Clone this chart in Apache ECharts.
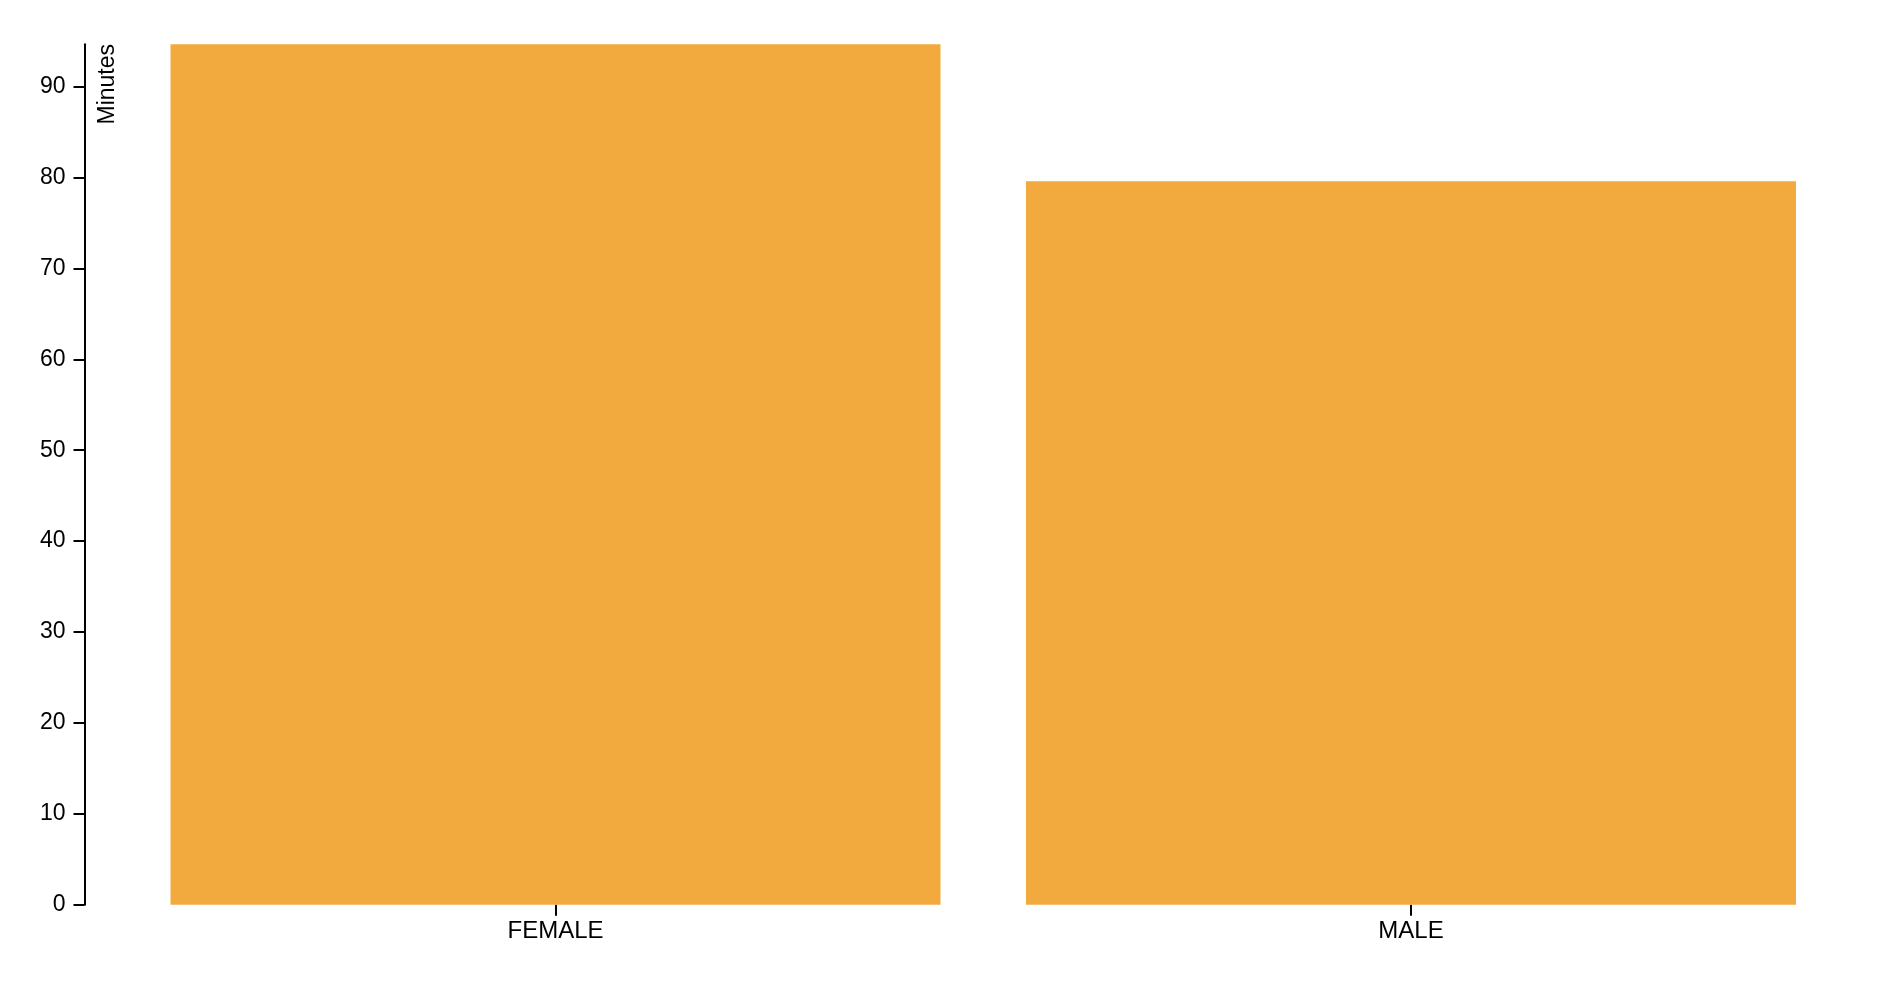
<!DOCTYPE html>
<html>
<head>
<meta charset="utf-8">
<script src="https://cdn.jsdelivr.net/npm/echarts@6/dist/echarts.min.js"></script>
<style>
html,body{margin:0;padding:0;background:#fff;}
#chart{width:1898px;height:984px;}
</style>
</head>
<body>
<div id="chart"></div>
<script>
const categories = ['FEMALE', 'MALE'];
const minutes = [94.66, 79.6];
const yTicks = [0, 10, 20, 30, 40, 50, 60, 70, 80, 90];
const yTitle = 'Minutes';

const chart = echarts.init(document.getElementById('chart'));
const font = '"Liberation Sans", Arial, Helvetica, sans-serif';
chart.setOption({
  animation: false,
  backgroundColor: '#ffffff',
  grid: { left: 127.75, width: 1711, top: 44.3, bottom: 79.3, containLabel: false },
  xAxis: {
    type: 'category',
    data: categories,
    axisLine: { show: false },
    axisTick: { show: true, alignWithLabel: true, length: 11, lineStyle: { color: '#000', width: 2 } },
    axisLabel: { color: '#000', fontSize: 24, fontFamily: font, margin: 15 },
    splitLine: { show: false }
  },
  yAxis: {
    type: 'value',
    min: 0,
    max: Math.max.apply(null, minutes),
    interval: 10,
    offset: 43.25,
    axisLine: { show: true, lineStyle: { color: '#000', width: 2 } },
    axisTick: { show: true, length: 11, lineStyle: { color: '#000', width: 2 } },
    axisLabel: {
      color: '#000', fontSize: 23, fontFamily: font, margin: 19,
      showMaxLabel: false,
      formatter: function (v) { return yTicks.indexOf(v) >= 0 ? String(v) : ''; }
    },
    splitLine: { show: false }
  },
  graphic: [{
    type: 'text',
    x: 108, y: 44,
    rotation: Math.PI / 2,
    style: {
      text: yTitle, fill: '#000', fontSize: 23, fontFamily: font,
      align: 'right', verticalAlign: 'middle'
    }
  }],
  series: [{
    type: 'bar',
    data: minutes,
    barWidth: 770,
    itemStyle: { color: '#F2AA3E' }
  }]
});
</script>
</body>
</html>
